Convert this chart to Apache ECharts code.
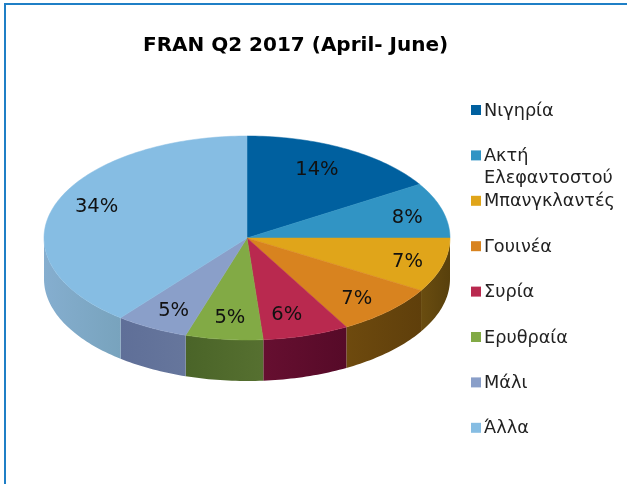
<!DOCTYPE html>
<html>
<head>
<meta charset="utf-8">
<title>FRAN Q2 2017</title>
<style>
  html, body { margin: 0; padding: 0; background: #fff; }
  #chart { width: 627px; height: 484px; }
</style>
<script src="https://cdn.jsdelivr.net/npm/echarts@6/dist/echarts.min.js"></script>
</head>
<body>
<div id="chart"></div>
<script>
// --- Data ---
const chartTitle = 'FRAN Q2 2017 (April- June)';
const countries = ['Νιγηρία', 'Ακτή\nΕλεφαντοστού', 'Μπανγκλαντές', 'Γουινέα', 'Συρία', 'Ερυθραία', 'Μάλι', 'Άλλα'];
const shares = [13.9, 7.6, 7.4, 7.1, 5.9, 5.3, 5.0, 33.8];

// --- Styles ---
const topColors = ['#00609f', '#3194c4', '#e0a51a', '#d8831f', '#b9294f', '#82aa45', '#8a9fc9', '#86bde3'];
const wallColors = [
    ['#003a60', '#003a60'], ['#1c5a78', '#1c5a78'], ['#6a4d10', '#58400c'], ['#6e4a0e', '#5f3f0b'],
    ['#660f30', '#560a28'], ['#4a6428', '#567030'], ['#5f6f98', '#66769c'], ['#85aecf', '#78a3bd']
];

// --- Pie geometry (pixels) ---
const cx = 247, cy = 238, rx = 203, ry = 102, depth = 41;
const labelRadius = 0.79;
const labelNudge = [[-8, 2], [6, 2], [6, 2], [-2, 3], [-7, 0], [1, 0], [2, 2], [1, -4]]; // the source places these by hand
const total = shares.reduce((a, b) => a + b, 0);

function edgePoint(angle, drop) {
    return [cx + rx * Math.sin(angle), cy - ry * Math.cos(angle) + (drop || 0)];
}

function arcPoints(from, to, drop) {
    const pts = [];
    const steps = Math.max(2, Math.ceil(Math.abs(to - from) / 0.02));
    for (let i = 0; i <= steps; i++) pts.push(edgePoint(from + (to - from) * i / steps, drop));
    return pts;
}

function renderSlice(params, api) {
    const i = params.dataIndex;
    const before = shares.slice(0, i).reduce((a, b) => a + b, 0);
    const start = before / total * 2 * Math.PI;
    const end = start + api.value(0) / total * 2 * Math.PI;
    const mid = (start + end) / 2;
    const children = [];

    // the side wall only shows on the front half
    const wallFrom = Math.max(start, Math.PI / 2);
    const wallTo = Math.min(end, Math.PI * 1.5);
    if (wallTo > wallFrom) {
        children.push({
            type: 'polygon',
            z2: 1,
            shape: { points: arcPoints(wallFrom, wallTo, 0).concat(arcPoints(wallTo, wallFrom, depth)) },
            style: {
                fill: { type: 'linear', x: 1, y: 0, x2: 0, y2: 0, colorStops: [
                    { offset: 0, color: wallColors[i][1] }, { offset: 1, color: wallColors[i][0] }
                ] }
            }
        });
    }

    children.push({
        type: 'polygon',
        z2: 2,
        shape: { points: [[cx, cy]].concat(arcPoints(start, end, 0)) },
        style: { fill: topColors[i], stroke: topColors[i], lineWidth: 0.5 }
    });

    const labelPos = [
        cx + rx * labelRadius * Math.sin(mid) + labelNudge[i][0],
        cy - ry * labelRadius * Math.cos(mid) + labelNudge[i][1]
    ];
    children.push({
        type: 'text',
        z2: 3,
        x: labelPos[0],
        y: labelPos[1],
        style: {
            text: Math.round(api.value(0)) + '%',
            fill: '#111',
            font: '19.5px "DejaVu Sans"',
            align: 'center',
            verticalAlign: 'middle'
        }
    });

    // legend entry, the rows keep one pitch even where a name wraps
    const rowY = 110 + i * 45.4;
    children.push({
        type: 'rect',
        z2: 3,
        shape: { x: 471, y: rowY - 5, width: 10, height: 10 },
        style: { fill: topColors[i] }
    });
    children.push({
        type: 'text',
        z2: 3,
        x: 484,
        y: rowY - 10,
        style: {
            text: countries[i],
            fill: '#222',
            font: '17.7px "DejaVu Sans"',
            lineHeight: 22,
            align: 'left',
            verticalAlign: 'top'
        }
    });

    return { type: 'group', children: children };
}

const chart = echarts.init(document.getElementById('chart'), null, { renderer: 'canvas' });
chart.setOption({
    animation: false,
    backgroundColor: '#fff',
    title: {
        text: chartTitle,
        left: 143,
        top: 36,
        padding: 0,
        textStyle: { color: '#000', fontFamily: '"DejaVu Sans"', fontWeight: 'bold', fontSize: 20 }
    },
    graphic: [
        { type: 'rect', silent: true, shape: { x: 4, y: 3, width: 2, height: 481 }, style: { fill: '#1f7fc6' } },
        { type: 'rect', silent: true, shape: { x: 4, y: 3, width: 623, height: 2 }, style: { fill: '#1f7fc6' } }
    ],
    series: [{
        type: 'custom',
        coordinateSystem: 'none',
        silent: true,
        renderItem: renderSlice,
        data: shares.map((v, i) => ({ name: countries[i], value: [v] }))
    }]
});
</script>
</body>
</html>
